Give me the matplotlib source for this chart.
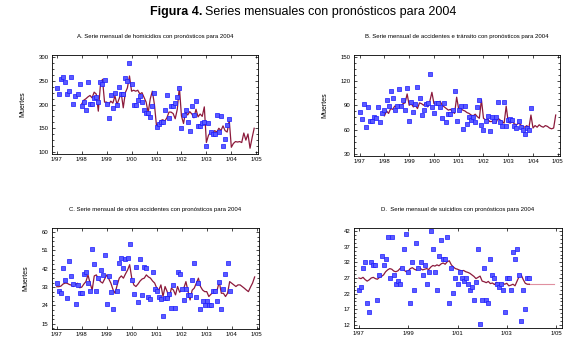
import numpy as np
import matplotlib
matplotlib.use('Agg')
import matplotlib.pyplot as plt
from matplotlib.ticker import AutoMinorLocator

plt.rcParams['font.family'] = ['Liberation Sans', 'DejaVu Sans']

# Datos observados (mensuales, 1/97 - 12/03) y pronósticos
homicidios_obs = [234, 223, 253, 257, 248, 223, 228, 257, 201, 218, 223, 244,
                  197, 206, 189, 248, 201, 201, 213, 216, 206, 248, 244, 251,
                  201, 171, 220, 192, 225, 199, 237, 223, 223, 255, 249, 288,
                  243, 199, 199, 209, 218, 206, 189, 182, 182, 173, 197, 225,
                  152, 159, 164, 163, 189, 220, 171, 197, 197, 204, 216, 235,
                  150, 178, 189, 164, 145, 197, 178, 208, 154, 154, 161, 164,
                  113, 161, 143, 138, 138, 177, 143, 176, 113, 127, 157, 169]
homicidios_pron = [201, 209, 212, 216, 219, 214, 226, 222, 186, 240, 253, 205,
                   205, 200, 207, 203, 218, 200, 212, 225, 193, 225, 235, 260,
                   228, 230, 228, 230, 222, 225, 215, 205, 183, 212, 228, 200,
                   155, 160, 166, 168, 165, 172, 184, 184, 181, 170, 190, 237,
                   176, 160, 185, 178, 185, 180, 172, 190, 174, 180, 175, 195,
                   120, 135, 142, 140, 145, 142, 150, 145, 155, 145, 142, 167,
                   110, 118, 122, 121, 122, 120, 140, 125, 138, 108, 130, 150]

transito_obs = [82, 73, 92, 63, 88, 71, 71, 76, 74, 88, 70, 80,
                84, 97, 89, 108, 99, 84, 89, 110, 89, 96, 84, 111,
                71, 94, 82, 92, 113, 99, 78, 84, 92, 93, 129, 88,
                81, 93, 93, 88, 74, 93, 70, 79, 79, 84, 108, 71,
                84, 89, 61, 89, 67, 75, 72, 75, 70, 88, 97, 66,
                60, 71, 77, 58, 75, 71, 76, 94, 69, 65, 94, 64,
                72, 73, 72, 65, 62, 71, 63, 60, 55, 62, 60, 87]
transito_pron = [77, 83, 80, 86, 85, 89, 88, 90, 89, 92, 93, 104,
                 90, 92, 88, 90, 86, 93, 92, 90, 93, 88, 95, 106,
                 92, 93, 92, 95, 90, 88, 86, 84, 85, 82, 80, 100,
                 85, 86, 84, 83, 81, 80, 78, 77, 79, 76, 74, 97,
                 74, 72, 73, 70, 70, 72, 68, 74, 72, 70, 68, 89,
                 69, 68, 70, 67, 66, 68, 66, 64, 63, 65, 62, 78,
                 62, 65, 63, 66, 64, 63, 65, 64, 62, 61, 62, 78]

otros_obs = [34.9, 31.1, 30.3, 42.6, 36.5, 27.6, 46.0, 38.6, 34.4, 24.6, 34.1, 30.3,
             30.3, 39.5, 40.6, 34.9, 31.1, 51.5, 44.2, 31.1, 37.7, 41.4, 39.0, 48.8,
             24.6, 38.6, 30.8, 22.2, 35.7, 31.1, 44.7, 47.4, 42.2, 46.6, 47.4, 54.0,
             36.5, 29.5, 43.0, 25.6, 46.8, 28.9, 43.0, 42.6, 28.4, 27.2, 40.6, 32.0,
             31.1, 28.4, 27.2, 18.6, 27.6, 27.6, 29.5, 22.7, 34.1, 22.7, 40.3, 39.3,
             32.1, 26.7, 32.1, 29.2, 29.2, 36.5, 44.7, 28.4, 34.9, 22.2, 26.0, 24.0,
             26.0, 24.0, 24.0, 31.1, 31.1, 26.0, 35.4, 22.2, 32.1, 39.3, 45.0, 31.0]
otros_pron = [33.2, 33.2, 33.5, 34.5, 35.0, 34.9, 34.3, 34.0, 33.3, 34.5, 34.9, 32.7,
              33.0, 34.5, 35.7, 39.0, 34.9, 31.6, 38.5, 39.0, 37.0, 35.7, 35.0, 37.0,
              39.0, 37.0, 34.9, 31.8, 30.0, 34.0, 37.4, 38.5, 37.4, 39.5, 41.4, 44.0,
              37.4, 34.1, 33.3, 34.5, 36.0, 37.0, 37.4, 39.0, 38.0, 37.4, 36.0, 35.0,
              32.5, 31.6, 34.1, 28.4, 33.3, 30.8, 27.6, 32.5, 31.6, 29.2, 33.3, 30.5,
              31.6, 32.5, 35.7, 31.0, 26.7, 31.5, 32.5, 34.9, 37.4, 33.3, 31.6, 30.8,
              30.8, 28.4, 29.5, 30.4, 31.6, 31.6, 35.7, 30.0, 30.0, 28.4, 30.0, 35.7,
              34.9, 34.1, 33.3, 34.1, 34.1, 33.3, 32.5, 31.6, 30.8, 33.0, 35.0, 38.0]

suicidios_obs = [23.2, 24.2, 30.3, 32.0, 19.1, 16.0, 32.0, 31.1, 31.1, 20.0, 28.0, 34.1,
                 31.1, 33.1, 40.2, 27.1, 40.2, 28.0, 25.0, 26.0, 25.0, 30.1, 36.3, 41.0,
                 29.0, 19.1, 32.0, 23.2, 38.1, 30.1, 32.0, 28.0, 31.1, 25.0, 29.0, 42.0,
                 36.3, 29.0, 23.2, 34.1, 39.1, 33.1, 33.1, 40.2, 19.1, 30.1, 22.1, 26.9,
                 25.0, 29.0, 27.1, 26.0, 27.1, 25.0, 23.2, 24.2, 20.0, 25.8, 36.3, 12.2,
                 20.0, 30.3, 20.0, 19.1, 33.1, 28.0, 27.1, 25.0, 24.2, 25.0, 23.2, 16.0,
                 27.1, 27.1, 23.2, 35.2, 33.1, 36.3, 28.0, 13.3, 23.2, 17.1, 27.1, 27.0]
suicidios_ajuste = [27.0, 26.8, 27.2, 26.5, 26.0, 26.4, 27.0, 27.2, 26.8, 26.6, 27.2, 27.5,
                    28.0, 29.0, 29.6, 30.0, 29.8, 29.2, 29.0, 29.3, 30.0, 30.4, 29.5, 29.0,
                    29.2, 30.0, 30.3, 29.8, 29.5, 30.5, 30.0, 29.6, 29.8, 30.0, 29.7, 30.5,
                    31.0, 30.8, 31.2, 30.9, 31.5, 31.8, 31.4, 32.2, 32.5, 31.2, 30.5, 30.0,
                    29.8, 29.5, 29.3, 29.4, 29.0, 28.8, 28.5, 28.0, 27.5, 26.8, 27.2, 27.6,
                    26.0, 25.8, 25.5, 25.9, 25.2, 25.4, 24.9, 25.6, 25.2, 24.9, 25.3, 25.0,
                    25.3, 24.5, 24.7, 25.0, 24.5, 26.0, 27.5, 28.0, 26.5, 25.3, 25.0, 25.0]
suicidios_pron = [25.0] * 13

anios = [1997, 1998, 1999, 2000, 2001, 2002, 2003, 2004, 2005]
etiquetas = ['1/97', '1/98', '1/99', '1/00', '1/01', '1/02', '1/03', '1/04', '1/05']

color_obs = '#1a1aff'
color_lin = '#8c1a3c'


def meses(inicio, n):
    # posición en años decimales de n meses desde 'inicio'
    return inicio + np.arange(n) / 12.0


def formato(ax, titulo, ylim, yticks, ylabels, xticks, xlabels, xlim, ylab=True):
    ax.set_xlim(xlim)
    ax.set_ylim(ylim)
    ax.set_yticks(yticks)
    ax.set_yticklabels(ylabels)
    ax.set_xticks(xticks)
    ax.set_xticklabels(xlabels)
    ax.yaxis.set_minor_locator(AutoMinorLocator(4))
    ax.tick_params(which='both', direction='in', top=True, right=True,
                   labelsize=4.3, width=0.5, pad=2.5)
    ax.tick_params(which='major', length=2.5)
    ax.tick_params(which='minor', length=1.3)
    for s in ax.spines.values():
        s.set_linewidth(0.6)
    ax.set_title(titulo, fontsize=4.3, pad=12)
    if ylab:
        ax.set_ylabel('Muertes', fontsize=5, labelpad=9)


fig = plt.figure(figsize=(5.74, 3.45), dpi=100)

# Título: parte en negrita y el resto a continuación
t1 = fig.text(150 / 574, 0.965, 'Figura 4.', fontsize=9, fontweight='bold', va='center')
fig.canvas.draw()
bb = t1.get_window_extent(renderer=fig.canvas.get_renderer())
x_sig = (bb.x1 + 3) / fig.bbox.width
fig.text(x_sig, 0.965, 'Series mensuales con pronósticos para 2004', fontsize=9, va='center')

# A. Homicidios
axA = fig.add_axes([0.0906, 0.5536, 0.3589, 0.287])
axA.plot(meses(1998, 84), homicidios_pron, color=color_lin, lw=0.9)
axA.plot(meses(1997, 84), homicidios_obs, 's', ms=2.2, mfc='#5a5aff', mec=color_obs, mew=0.5)
formato(axA, 'A. Serie mensual de homicidios con pronósticos para 2004',
        (95.8, 304.2), [100, 150, 200, 250, 300], ['100', '150', '200', '250', '300'],
        anios, etiquetas, (1996.81, 2005.07))

# B. Tránsito
axB = fig.add_axes([0.6167, 0.5478, 0.3589, 0.2928])
axB.plot(meses(1998, 84), transito_pron, color=color_lin, lw=0.9)
axB.plot(meses(1997, 84), transito_obs, 's', ms=2.2, mfc='#5a5aff', mec=color_obs, mew=0.5)
formato(axB, 'B. Serie mensual de accidentes e tránsito con pronósticos para 2004',
        (27.5, 152.0), [30, 60, 90, 120, 150], ['30', '60', '90', '120', '150'],
        anios, etiquetas, (1996.77, 2005.09))

# C. Otros accidentes
axC = fig.add_axes([0.0906, 0.0472, 0.3606, 0.2919])
axC.plot(meses(1997, 96), otros_pron, color=color_lin, lw=0.9)
axC.plot(meses(1997, 84), otros_obs, 's', ms=2.2, mfc='#5a5aff', mec=color_obs, mew=0.5)
formato(axC, 'C. Serie mensual de otros accidentes con pronósticos para 2004',
        (12.6, 62.0), [15, 24, 33, 42, 51, 60], ['15', '24', '33', '42', '51', '60'],
        anios, etiquetas, (1996.81, 2005.09))

# D. Suicidios
axD = fig.add_axes([0.6167, 0.0493, 0.3624, 0.2899])
axD.plot(meses(2003 + 11 / 12.0, 13), suicidios_pron, color='#e090a0', lw=0.8)
axD.plot(meses(1997, 84), suicidios_ajuste, color=color_lin, lw=0.9)
axD.plot(meses(1997, 84), suicidios_obs, 's', ms=2.2, mfc='#5a5aff', mec=color_obs, mew=0.5)
formato(axD, 'D.  Serie mensual de suicidios con pronósticos para 2004',
        (11.0, 43.0), [12, 17, 22, 27, 32, 37, 42], ['12', '17', '22', '27', '32', '37', '42'],
        anios[::2], etiquetas[::2], (1996.8, 2005.24), ylab=False)

plt.savefig('out.png', dpi=100)
